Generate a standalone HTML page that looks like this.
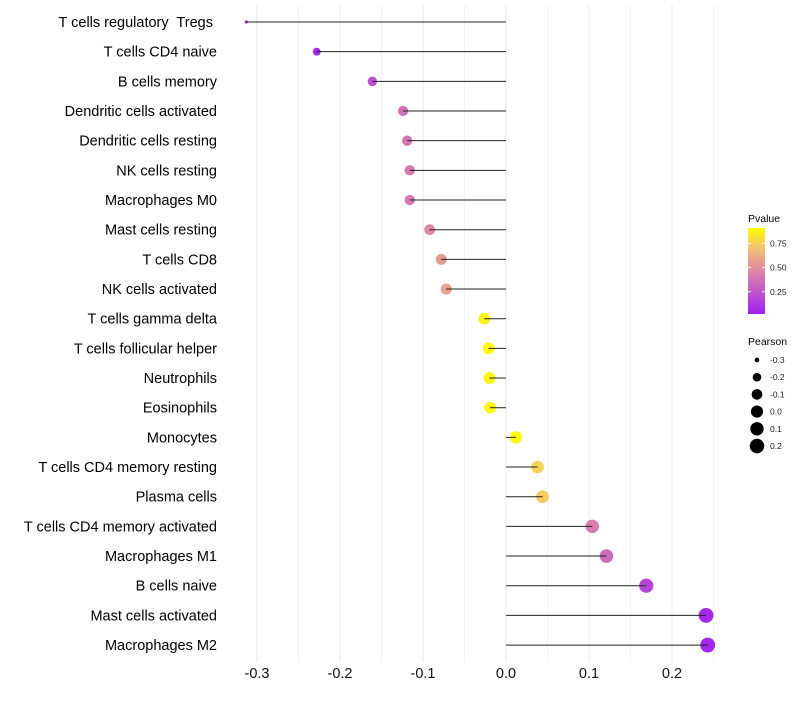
<!DOCTYPE html>
<html><head><meta charset="utf-8"><style>
body{margin:0;background:#fff;}
svg text{font-family:"Liberation Sans",sans-serif;white-space:pre;}
</style></head><body>
<svg id="chart" width="800" height="700" xmlns="http://www.w3.org/2000/svg">
<defs><linearGradient id="pg" x1="0" y1="1" x2="0" y2="0">
<stop offset="0" stop-color="#a020f0"/><stop offset="0.5" stop-color="#de87a5"/><stop offset="0.78" stop-color="#f2c470"/><stop offset="1" stop-color="#ffff00"/></linearGradient></defs>
<g id="grid"></g>
<g id="marks"></g>
<g id="ylabels"></g>
<g id="xlabels"></g>
<g>
<text x="748" y="222" font-size="10.5">Pvalue</text>
<rect x="748" y="228" width="17" height="86" fill="url(#pg)"/>
<g id="pvticks"></g>
</g>
<g id="sizeleg">
<text x="748" y="345" font-size="10.5">Pearson</text>
</g>
</svg>
<script>
const categories=["T cells regulatory  Tregs ","T cells CD4 naive","B cells memory","Dendritic cells activated","Dendritic cells resting","NK cells resting","Macrophages M0","Mast cells resting","T cells CD8","NK cells activated","T cells gamma delta","T cells follicular helper","Neutrophils","Eosinophils","Monocytes","T cells CD4 memory resting","Plasma cells","T cells CD4 memory activated","Macrophages M1","B cells naive","Mast cells activated","Macrophages M2"];
const pearson=[-0.313,-0.228,-0.161,-0.124,-0.119,-0.116,-0.116,-0.092,-0.078,-0.072,-0.026,-0.021,-0.020,-0.019,0.012,0.038,0.044,0.104,0.121,0.169,0.241,0.243];
const pvalue=[0.02,0.06,0.22,0.38,0.4,0.41,0.41,0.47,0.55,0.58,0.86,0.89,0.89,0.89,0.91,0.76,0.74,0.42,0.35,0.18,0.06,0.05];
const xTicks=[-0.3,-0.2,-0.1,0.0,0.1,0.2];
const pTicks=[0.25,0.5,0.75];
const sizeTicks=[-0.3,-0.2,-0.1,0.0,0.1,0.2];
const NS="http://www.w3.org/2000/svg";
const x=v=>506+830*v;
const y=i=>22+i*29.67;
const pMin=0.02,pMax=0.91;
const py=p=>314-(p-pMin)/(pMax-pMin)*86;
const stops=[[0,[160,32,240]],[0.5,[222,135,165]],[0.78,[242,196,112]],[1,[255,255,0]]];
function col(p){let t=Math.max(0,Math.min(1,(p-pMin)/(pMax-pMin)));
 for(let k=1;k<stops.length;k++){if(t<=stops[k][0]){const a=stops[k-1],b=stops[k];const u=(t-a[0])/(b[0]-a[0]);
  return 'rgb('+a[1].map((c,j)=>Math.round(c+(b[1][j]-c)*u)).join(',')+')';}}
 return 'rgb(255,255,0)';}
const rad=v=>Math.sqrt(2.5+53*Math.pow(Math.max(0,(v+0.313)/0.556),0.75));
function mk(tag,attrs,parent){const e=document.createElementNS(NS,tag);for(const k in attrs)e.setAttribute(k,attrs[k]);parent.appendChild(e);return e;}
const grid=document.getElementById('grid');
for(let k=-6;k<=5;k++){const v=k*0.05;
 const l=mk('line',{x1:x(v),x2:x(v),y1:5,y2:662,stroke:k%2===0?'#e8e8e8':'#f3f3f3','stroke-width':1},grid);
 
 
}
const marks=document.getElementById('marks'),yl=document.getElementById('ylabels'),xl=document.getElementById('xlabels');
categories.forEach((c,i)=>{
 const pt=mk('circle',{cx:x(pearson[i]),cy:y(i),r:rad(pearson[i]),fill:col(pvalue[i])},marks);
 
 
 const ln=mk('line',{x1:x(0),x2:x(pearson[i]),y1:y(i),y2:y(i),stroke:'#222','stroke-width':1},marks);
 
 
 const t=mk('text',{x:217,y:y(i)+5,'text-anchor':'end','font-size':14.5,fill:'#000'},yl);t.textContent=c;
 
 
});
xTicks.forEach(v=>{const t=mk('text',{x:x(v),y:678,'text-anchor':'middle','font-size':14.5,fill:'#111'},xl);t.textContent=v.toFixed(1);
 
 });
const pv=document.getElementById('pvticks');
pTicks.forEach(p=>{mk('line',{x1:748,x2:751,y1:py(p),y2:py(p),stroke:'#fff'},pv);mk('line',{x1:762,x2:765,y1:py(p),y2:py(p),stroke:'#fff'},pv);
 const t=mk('text',{x:770,y:py(p)+3,'font-size':8.5,fill:'#222'},pv);t.textContent=p.toFixed(2);
 
 });
const sl=document.getElementById('sizeleg');
sizeTicks.forEach((v,i)=>{const cy=360+i*17.2;
 const c=mk('circle',{cx:757,cy:cy,r:rad(v),fill:'#000'},sl);
 
 
 const t=mk('text',{x:770,y:cy+3,'font-size':8.5,fill:'#222'},sl);t.textContent=v.toFixed(1);
 
 });
</script>
</body></html>
